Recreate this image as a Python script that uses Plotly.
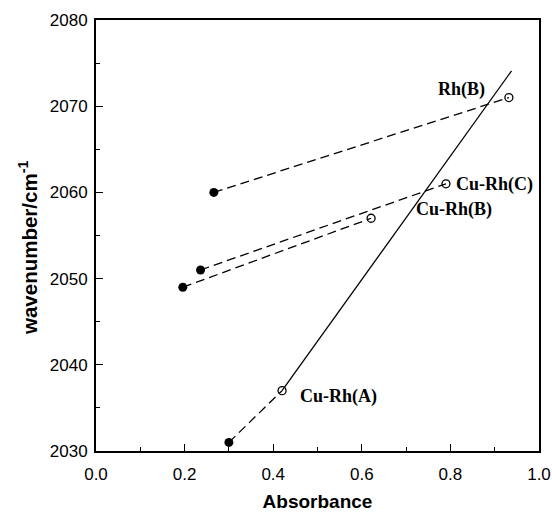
import plotly.graph_objects as go

# Data
rhb_x = [0.266, 0.932]
rhb_y = [2060, 2071]
curhc_x = [0.236, 0.790]
curhc_y = [2051, 2061]
curhb_x = [0.196, 0.621]
curhb_y = [2049, 2057]
curha_x = [0.300, 0.420]
curha_y = [2031, 2037]
fit_x = [0.420, 0.938]
fit_y = [2037, 2074.1]

labels = ["Rh(B)", "Cu-Rh(C)", "Cu-Rh(B)", "Cu-Rh(A)"]
label_x = [0.768, 0.808, 0.718, 0.456]
label_y = [2071.9, 2060.9, 2058.0, 2036.3]

fig = go.Figure()

dash = "9px,5px"
for xs, ys in [(rhb_x, rhb_y), (curhc_x, curhc_y), (curhb_x, curhb_y), (curha_x, curha_y)]:
    fig.add_trace(go.Scatter(x=xs, y=ys, mode="lines",
                             line=dict(color="black", width=1.3, dash=dash),
                             showlegend=False, hoverinfo="skip"))

fig.add_trace(go.Scatter(x=fit_x, y=fit_y, mode="lines",
                         line=dict(color="black", width=1.3),
                         showlegend=False, hoverinfo="skip"))

# filled (first) and open (second) markers
filled_x = [s[0] for s in (rhb_x, curhc_x, curhb_x, curha_x)]
filled_y = [s[0] for s in (rhb_y, curhc_y, curhb_y, curha_y)]
open_x = [s[1] for s in (rhb_x, curhc_x, curhb_x, curha_x)]
open_y = [s[1] for s in (rhb_y, curhc_y, curhb_y, curha_y)]

fig.add_trace(go.Scatter(x=filled_x, y=filled_y, mode="markers",
                         marker=dict(symbol="circle", size=9, color="black"),
                         showlegend=False))
fig.add_trace(go.Scatter(x=open_x, y=open_y, mode="markers",
                         marker=dict(symbol="circle-open", size=8, color="black",
                                     line=dict(width=1.3)),
                         showlegend=False))

for t, ax_, ay_ in zip(labels, label_x, label_y):
    fig.add_annotation(x=ax_, y=ay_, text="<b>" + t + "</b>", showarrow=False,
                       xanchor="left", yanchor="middle",
                       font=dict(family="Liberation Serif", size=18, color="black"))

# y-axis title as a rotated annotation (positioned as in the reference)
fig.add_annotation(x=-0.1535, y=0.471, xref="paper", yref="paper",
                   text="<b>wavenumber/cm<sup>-1</sup></b>", textangle=-90,
                   showarrow=False, xanchor="center", yanchor="middle",
                   font=dict(family="Liberation Sans, Arial", size=20.5, color="black"))

fig.update_layout(
    width=552, height=512,
    margin=dict(l=96, r=13, t=20, b=61, autoexpand=False),
    plot_bgcolor="white", paper_bgcolor="white",
    font=dict(family="Liberation Sans, Arial", color="black"),
)
fig.update_xaxes(range=[0, 1.0], tickvals=[0, 0.2, 0.4, 0.6, 0.8, 1.0],
                 ticktext=["0.0", "0.2", "0.4", "0.6", "0.8", "1.0"],
                 ticks="inside", ticklen=7, tickwidth=1.3, tickcolor="black",
                 minor=dict(ticks="inside", ticklen=4, tickwidth=1.3, dtick=0.1, tickcolor="black", showgrid=False),
                 showline=True, linecolor="black", linewidth=2, mirror=True,
                 showgrid=False, zeroline=False, automargin=False,
                 tickfont=dict(size=17), ticklabelstandoff=7,
                 title=dict(text="<b>Absorbance</b>", font=dict(size=19), standoff=17))
fig.update_yaxes(range=[2030, 2080], tickvals=[2030, 2040, 2050, 2060, 2070, 2080],
                 ticks="inside", ticklen=7, tickwidth=1.3, tickcolor="black",
                 minor=dict(ticks="inside", ticklen=4, tickwidth=1.3, dtick=5, tickcolor="black", showgrid=False),
                 showline=True, linecolor="black", linewidth=2, mirror=True,
                 showgrid=False, zeroline=False, automargin=False,
                 tickfont=dict(size=17), ticklabelstandoff=3)

fig.write_html("out.html")
